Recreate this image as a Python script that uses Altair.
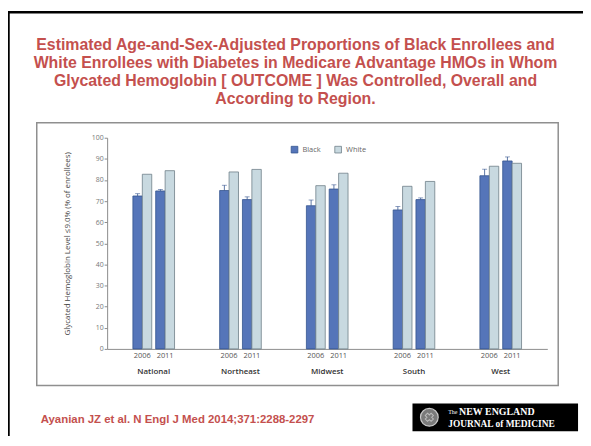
import altair as alt
import pandas as pd

# ---- data ----
regions = ["National", "Northeast", "Midwest", "South", "West"]
years = ["2006", "2011"]
races = ["Black", "White"]
black_2006 = [72.4, 75.0, 67.8, 65.8, 82.0]
white_2006 = [82.7, 83.8, 77.3, 77.0, 86.5]
black_2011 = [74.8, 70.7, 75.7, 70.7, 89.0]
white_2011 = [84.4, 85.0, 83.2, 79.3, 87.9]
black_2006_upper = [73.5, 77.5, 70.5, 67.4, 85.1]
black_2011_upper = [75.5, 72.0, 77.7, 71.5, 90.9]
y_ticks = [0, 10, 20, 30, 40, 50, 60, 70, 80, 90, 100]

title_lines = [
    "Estimated Age-and-Sex-Adjusted Proportions of Black Enrollees and",
    "White Enrollees with Diabetes in Medicare Advantage HMOs in Whom",
    "Glycated Hemoglobin [ OUTCOME ] Was Controlled, Overall and",
    "According to Region.",
]
citation = "Ayanian JZ et al. N Engl J Med 2014;371:2288-2297"
y_title = "Glycated Hemoglobin Level \u22649.0% (% of enrollees)"

# ---- long table ----
rows = []
series = {("2006", "Black"): (black_2006, black_2006_upper),
          ("2006", "White"): (white_2006, None),
          ("2011", "Black"): (black_2011, black_2011_upper),
          ("2011", "White"): (white_2011, None)}
for i, r in enumerate(regions):
    for (yr, race), (vals, ups) in series.items():
        rows.append({"region": r, "idx": i, "year": yr, "race": race,
                     "value": vals[i],
                     "upper": ups[i] if ups is not None else None})
df = pd.DataFrame(rows)

lab_rows = []
for i, r in enumerate(regions):
    for yr in years:
        lab_rows.append({"region": r, "idx": i, "year": yr})
lab_df = pd.DataFrame(lab_rows)
reg_df = pd.DataFrame({"region": regions, "idx": list(range(len(regions)))})

RED = "#c4504e"
XS = alt.Scale(domain=[-0.537, 4.537], nice=False, zero=False)
YS = alt.Scale(domain=[0, 100], nice=False)

XAX = alt.Axis(labels=False, ticks=False, grid=False, title=None,
               domainColor="#8c8c8c", domainWidth=1)
YAX = alt.Axis(
    values=y_ticks, tickCount=11, grid=False, tickSize=3, tickColor="#8c8c8c",
    domainColor="#8c8c8c", labelColor="#777777", labelFontSize=7,
    labelFont="Open Sans", labelPadding=1, labelOverlap=False,
    title=y_title,
    titleFont="Open Sans", titleFontSize=8, titleFontWeight="normal",
    titleColor="#444444", titleAngle=270, titleX=-40, titleY=106.5,
    titleAlign="center", titleBaseline="middle")

base = alt.Chart(df).transform_calculate(
    pc="datum.idx + (datum.year == '2011' ? 0.1314 : -0.1314)"
).transform_calculate(
    bx="datum.pc + (datum.race == 'Black' ? -0.1086 : 0)"
).transform_calculate(
    bx2="datum.bx + 0.1086", bc="datum.bx + 0.0543"
)

bars = base.mark_bar(strokeWidth=0.8).encode(
    x=alt.X("bx:Q", scale=XS, axis=XAX),
    x2="bx2:Q",
    y=alt.Y("value:Q", scale=YS, axis=YAX),
    y2=alt.datum(0),
    color=alt.Color("race:N", scale=alt.Scale(domain=races, range=["#5575b9", "#c8d9e0"]),
                    legend=alt.Legend(orient="none", legendX=185, legendY=8,
                                      direction="horizontal", title=None,
                                      symbolType="square", symbolSize=45,
                                      symbolStrokeWidth=0.8,
                                      labelFontSize=7.5, labelFont="Open Sans",
                                      labelColor="#666666", columnPadding=12,
                                      labelOffset=4)),
    stroke=alt.Stroke("race:N", scale=alt.Scale(domain=races, range=["#34548f", "#6f7f88"]),
                      legend=None),
)

err_base = base.transform_filter("datum.upper != null")
err_rule = err_base.mark_rule(color="#34548f", strokeWidth=0.8).encode(
    x=alt.X("bc:Q", scale=XS, axis=XAX), y=alt.Y("value:Q", scale=YS, axis=YAX),
    y2="upper:Q")
err_cap = err_base.mark_tick(color="#34548f", thickness=0.8, size=5,
                             orient="horizontal").encode(
    x=alt.X("bc:Q", scale=XS, axis=XAX), y=alt.Y("upper:Q", scale=YS, axis=YAX))

year_text = alt.Chart(lab_df).transform_calculate(
    pc="datum.idx + (datum.year == '2011' ? 0.1314 : -0.1314)"
).mark_text(fontSize=7.5, font="Open Sans", color="#555555", baseline="middle").encode(
    x=alt.X("pc:Q", scale=XS, axis=XAX), y=alt.value(220), text="year:N")

region_text = alt.Chart(reg_df).mark_text(
    fontSize=8, font="Open Sans", fontWeight=600, color="#333333",
    baseline="middle").encode(
    x=alt.X("idx:Q", scale=XS, axis=XAX), y=alt.value(236), text="region:N")

one = pd.DataFrame({"k": [0]})

panel = alt.Chart(one).mark_rect(fill=None, stroke="#8f8f8f", strokeWidth=1.5).encode(
    x=alt.value(-71), x2=alt.value(455), y=alt.value(-15), y2=alt.value(250))

frame_left = alt.Chart(one).mark_rule(color="#000000", strokeWidth=2.5).encode(
    x=alt.value(-99.5), y=alt.value(-126.5), y2=alt.value(320))
frame_top = alt.Chart(one).mark_rule(color="#000000", strokeWidth=2.5).encode(
    x=alt.value(-100.5), x2=alt.value(490), y=alt.value(-126.5))

title_layers = []
for k, line in enumerate(title_lines):
    title_layers.append(
        alt.Chart(one).mark_text(text=line, font="Liberation Sans", fontSize=16,
                                 fontWeight="bold", color=RED, align="center",
                                 baseline="middle").encode(
            x=alt.value(190), y=alt.value(-93 + 18 * k)))

cite = alt.Chart(one).mark_text(text=citation, font="Liberation Sans", fontSize=11.5,
                                fontWeight="bold", color=RED, align="left",
                                baseline="middle").encode(
    x=alt.value(-67), y=alt.value(285))

logo_box = alt.Chart(one).mark_rect(fill="#000000").encode(
    x=alt.value(308), x2=alt.value(475), y=alt.value(268), y2=alt.value(296))
seal = alt.Chart(one).mark_point(shape="circle", filled=True, size=320, fill="#7a7a7a",
                                 stroke="#c8c8c8", strokeWidth=1.2, opacity=1).encode(
    x=alt.value(325), y=alt.value(282))
seal_in = alt.Chart(one).mark_point(shape="cross", filled=False, size=70,
                                    stroke="#d8d8d8", strokeWidth=1, angle=45).encode(
    x=alt.value(325), y=alt.value(282))
logo_the = alt.Chart(one).mark_text(text="The", font="Liberation Serif", fontSize=6,
                                    color="#ffffff", align="left", baseline="middle").encode(
    x=alt.value(344), y=alt.value(277))
logo_l1 = alt.Chart(one).mark_text(text="NEW ENGLAND", font="Liberation Serif", fontSize=10,
                                   fontWeight="bold", color="#ffffff", align="left",
                                   baseline="middle").encode(
    x=alt.value(355), y=alt.value(277))
logo_l2 = alt.Chart(one).mark_text(text="JOURNAL of MEDICINE", font="Liberation Serif",
                                   fontSize=9.5, fontWeight="bold", color="#ffffff",
                                   align="left", baseline="middle").encode(
    x=alt.value(344), y=alt.value(289))

chart = alt.layer(
    frame_left, frame_top, panel, *title_layers, cite,
    logo_box, seal, seal_in, logo_the, logo_l1, logo_l2,
    bars, err_rule, err_cap, year_text, region_text,
).properties(
    width=444, height=213,
    padding={"left": 100, "top": 129, "right": 36, "bottom": 86},
    autosize=alt.AutoSizeParams(type="none"),
    background="#ffffff",
).configure_view(stroke=None).configure_axis(labelOverlap=False)

chart.save("out.html", embed_options={"renderer": "svg", "actions": False})
